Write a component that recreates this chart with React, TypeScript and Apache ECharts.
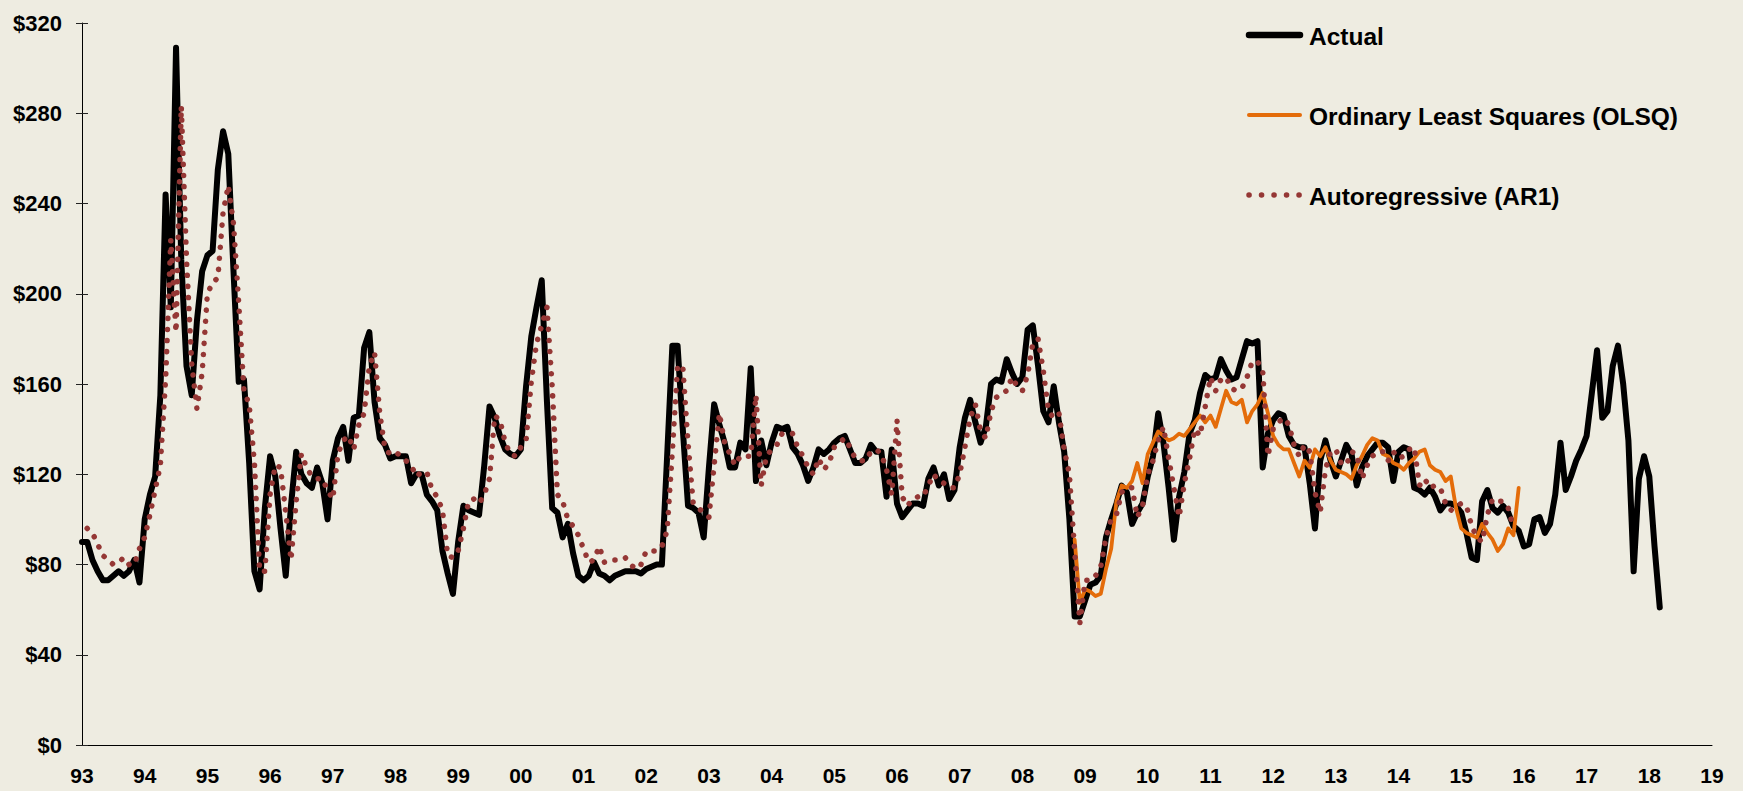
import React, { useEffect, useRef } from "react";
import * as echarts from "echarts";

// Year tick labels on the x axis (Jan of each year)
const yearLabels = [
  "93", "94", "95", "96", "97", "98", "99", "00", "01", "02", "03", "04", "05",
  "06", "07", "08", "09", "10", "11", "12", "13", "14", "15", "16", "17", "18", "19",
];

// Actual monthly values, Jan 1993 .. Mar 2018
const actualStart = 0;
const actualValues = [
  90, 90, 82, 77, 73, 73, 75, 77, 75, 77, 82, 72, // 1993
  100, 111, 119, 155, 244, 194, 309, 215, 168, 155, 188, 210, // 1994
  217, 219, 255, 272, 262, 210, 161, 162, 125, 77, 69, 105, // 1995
  128, 119, 96, 75, 106, 130, 120, 116, 114, 123, 116, 100, // 1996
  126, 136, 141, 126, 145, 146, 176, 183, 152, 136, 133, 127, // 1997
  128, 128, 128, 116, 120, 120, 111, 108, 104, 86, 76, 67, // 1998
  90, 106, 104, 103, 102, 124, 150, 145, 137, 131, 129, 128, // 1999
  131, 159, 181, 194, 206, 152, 105, 103, 92, 98, 85, 75, // 2000
  73, 75, 81, 76, 75, 73, 75, 76, 77, 77, 77, 76, // 2001
  78, 79, 80, 80, 128, 177, 177, 140, 106, 105, 103, 92, // 2002
  123, 151, 142, 134, 123, 123, 134, 131, 167, 117, 135, 124, // 2003
  134, 141, 140, 141, 132, 129, 124, 117, 123, 131, 129, 131, // 2004
  134, 136, 137, 131, 125, 125, 127, 133, 130, 130, 110, 131, // 2005
  107, 101, 104, 107, 107, 106, 118, 123, 115, 120, 109, 113, // 2006
  132, 145, 153, 143, 134, 141, 160, 162, 161, 171, 165, 160, // 2007
  163, 184, 186, 168, 148, 143, 159, 143, 130, 100, 57, 57, // 2008
  64, 71, 72, 75, 92, 100, 107, 115, 112, 98, 103, 107, // 2009
  119, 128, 147, 134, 114, 91, 110, 121, 138, 144, 156, 164, // 2010
  162, 163, 171, 166, 162, 163, 171, 179, 178, 179, 123, 138, // 2011
  144, 147, 146, 137, 133, 132, 132, 116, 96, 126, 135, 126, // 2012
  119, 126, 133, 129, 115, 123, 128, 131, 134, 134, 132, 117, // 2013
  130, 132, 131, 114, 113, 111, 114, 110, 104, 107, 107, 106, // 2014
  103, 94, 83, 82, 108, 113, 105, 103, 106, 103, 97, 95, // 2015
  88, 89, 100, 101, 94, 98, 111, 134, 113, 119, 126, 131, // 2016
  137, 156, 175, 145, 148, 168, 177, 160, 135, 77, 118, 128, // 2017
  119, 88, 61, // 2018
];

// Autoregressive (AR1) fitted values, Feb 1993 .. Nov 2015
const ar1Start = 1;
const ar1Values = [
  96, 94, 89, 84, 82, 80, 81, 83, 80, 80, 87, // 1993 (Feb-Dec)
  92, 102, 113, 124, 162, 224, 183, 283, 215, 169, 149, 165, // 1994
  200, 205, 207, 236, 248, 231, 196, 157, 151, 125, 77, 77, // 1995
  111, 124, 123, 103, 82, 108, 129, 123, 119, 118, 118, 113, // 1996
  109, 129, 135, 137, 131, 142, 147, 168, 174, 147, 131, 129, // 1997
  130, 128, 126, 124, 119, 121, 121, 113, 110, 104, 84, 83, // 1998
  86, 96, 108, 109, 107, 111, 118, 146, 144, 134, 129, 128, // 1999
  132, 135, 161, 178, 186, 194, 159, 111, 108, 100, 97, 93, // 2000
  87, 81, 82, 88, 81, 82, 82, 82, 83, 80, 78, 80, // 2001
  86, 86, 86, 88, 95, 130, 168, 168, 134, 107, 105, 103, // 2002
  101, 124, 147, 134, 129, 124, 128, 128, 128, 155, 115, 128, // 2003
  131, 133, 138, 138, 138, 132, 128, 123, 120, 127, 122, 125, // 2004
  132, 134, 136, 132, 127, 126, 126, 130, 131, 129, 122, 111, // 2005
  144, 110, 106, 109, 110, 110, 115, 120, 117, 116, 114, 114, // 2006
  120, 132, 145, 151, 139, 136, 148, 154, 156, 157, 163, 159, // 2007
  157, 164, 178, 180, 166, 148, 145, 147, 131, 120, 86, 54, // 2008
  73, 73, 75, 79, 92, 100, 102, 112, 114, 114, 101, 106, // 2009
  120, 126, 135, 141, 127, 114, 101, 116, 127, 140, 137, 150, // 2010
  163, 157, 162, 163, 158, 157, 158, 163, 170, 170, 166, 128, // 2011
  140, 143, 145, 142, 133, 128, 133, 130, 112, 103, 122, 130, // 2012
  131, 125, 124, 130, 129, 118, 124, 128, 130, 130, 126, 130, // 2013
  127, 128, 131, 132, 115, 118, 114, 115, 114, 107, 104, 106, // 2014
  107, 106, 97, 92, 90, 102, 109, 108, 108, 105, 96, // 2015 (Jan-Nov)
];

// Ordinary Least Squares (OLSQ) fitted values, Nov 2008 .. Dec 2015
const olsqStart = 190;
const olsqValues = [
  91, 63, // 2008 (Nov-Dec)
  69, 68, 66, 67, 78, 87, 108, 115, 114, 117, 125, 116, // 2009
  129, 134, 139, 137, 135, 136, 138, 137, 140, 143, 146, 143, // 2010
  146, 141, 149, 157, 152, 151, 153, 143, 148, 151, 156, 147, // 2011
  137, 133, 131, 131, 125, 119, 126, 123, 131, 128, 132, 126, // 2012
  122, 121, 120, 118, 124, 128, 133, 136, 135, 129, 128, 125, // 2013
  124, 122, 125, 127, 130, 131, 124, 122, 121, 117, 119, 105, // 2014
  96, 94, 93, 92, 98, 94, 91, 86, 89, 96, 93, 114, // 2015
];

const FONT = "'Liberation Sans', Arial, Helvetica, sans-serif";

function pad(start: number, values: number[]): (number | null)[] {
  const out: (number | null)[] = [];
  for (let i = 0; i < start; i++) out.push(null);
  return out.concat(values);
}

export default function App() {
  const ref = useRef<HTMLDivElement>(null);

  useEffect(() => {
    if (!ref.current) return;
    const chart = echarts.init(ref.current, undefined, { renderer: "svg" });

    const categories: string[] = [];
    for (let y = 0; y < yearLabels.length - 1; y++) {
      for (let m = 0; m < 12; m++) categories.push(`${yearLabels[y]}-${m + 1}`);
    }
    categories.push(`${yearLabels[yearLabels.length - 1]}-1`);

    const legendItems = [
      { name: "Actual", y: 35, stroke: "#000000", width: 6.5, dash: null as number[] | null },
      { name: "Ordinary Least Squares (OLSQ)", y: 115, stroke: "#E46C0A", width: 4, dash: null },
      { name: "Autoregressive (AR1)", y: 195, stroke: "#953735", width: 5.5, dash: [0.1, 12.4] },
    ];

    const graphic: any[] = [];
    legendItems.forEach((it) => {
      graphic.push({
        type: "line",
        shape: { x1: 1249, y1: it.y, x2: 1300, y2: it.y },
        style: {
          stroke: it.stroke,
          lineWidth: it.width,
          lineCap: "round",
          lineDash: it.dash || undefined,
        },
      });
      graphic.push({
        type: "text",
        x: 1309,
        y: it.y + 1,
        style: {
          text: it.name,
          font: `bold 24.5px ${FONT}`,
          fill: "#000",
          verticalAlign: "middle",
          align: "left",
        },
      });
    });

    const gridPos = { left: 82, right: 31, top: 23, bottom: 46 };

    chart.setOption({
      animation: false,
      backgroundColor: "#EEECE1",
      textStyle: { fontFamily: FONT },
      grid: [
        { ...gridPos, containLabel: false },
        { ...gridPos, containLabel: false },
      ],
      xAxis: [
        {
          type: "category",
          gridIndex: 0,
          data: categories,
          boundaryGap: false,
          axisLine: { show: true, lineStyle: { color: "#000", width: 1 } },
          axisTick: { show: false },
          splitLine: { show: false },
          axisLabel: {
            interval: (index: number) => index % 12 === 0,
            formatter: (v: string) => v.split("-")[0],
            color: "#000",
            fontWeight: "bold",
            fontSize: 21,
            fontFamily: FONT,
            margin: 20,
          },
        },
        { type: "value", gridIndex: 1, show: false, min: 0, max: 1 },
      ],
      yAxis: [
        {
          type: "value",
          gridIndex: 0,
          min: 0,
          max: 320,
          interval: 40,
          axisLine: { show: true, lineStyle: { color: "#000", width: 1 } },
          axisTick: { show: true, inside: false, length: 6, lineStyle: { color: "#222", width: 1 } },
          splitLine: { show: false },
          axisLabel: {
            formatter: (v: number) => `$${v}`,
            color: "#000",
            fontWeight: "bold",
            fontSize: 22,
            fontFamily: FONT,
            margin: 20,
          },
        },
        {
          type: "value",
          gridIndex: 1,
          position: "left",
          min: 0,
          max: 320,
          interval: 40,
          axisLine: { show: false },
          axisTick: { show: true, inside: true, length: 6, lineStyle: { color: "#222", width: 1 } },
          splitLine: { show: false },
          axisLabel: { show: false },
        },
      ],
      series: [
        {
          name: "Actual",
          type: "line",
          xAxisIndex: 0,
          yAxisIndex: 0,
          data: pad(actualStart, actualValues),
          symbol: "none",
          lineStyle: { color: "#000000", width: 6, join: "round", cap: "round" },
        },
        {
          name: "Ordinary Least Squares (OLSQ)",
          type: "line",
          xAxisIndex: 0,
          yAxisIndex: 0,
          data: pad(olsqStart, olsqValues),
          symbol: "none",
          lineStyle: { color: "#E46C0A", width: 3.8, join: "round", cap: "round" },
        },
        {
          name: "Autoregressive (AR1)",
          type: "line",
          xAxisIndex: 0,
          yAxisIndex: 0,
          data: pad(ar1Start, ar1Values),
          symbol: "none",
          lineStyle: { color: "#953735", width: 5.5, type: [0.1, 11], cap: "round", join: "round" },
        },
      ],
      graphic,
    });

    return () => chart.dispose();
  }, []);

  return (
    <div
      ref={ref}
      style={{ position: "absolute", left: 0, top: 0, width: 1743, height: 791 }}
    />
  );
}
